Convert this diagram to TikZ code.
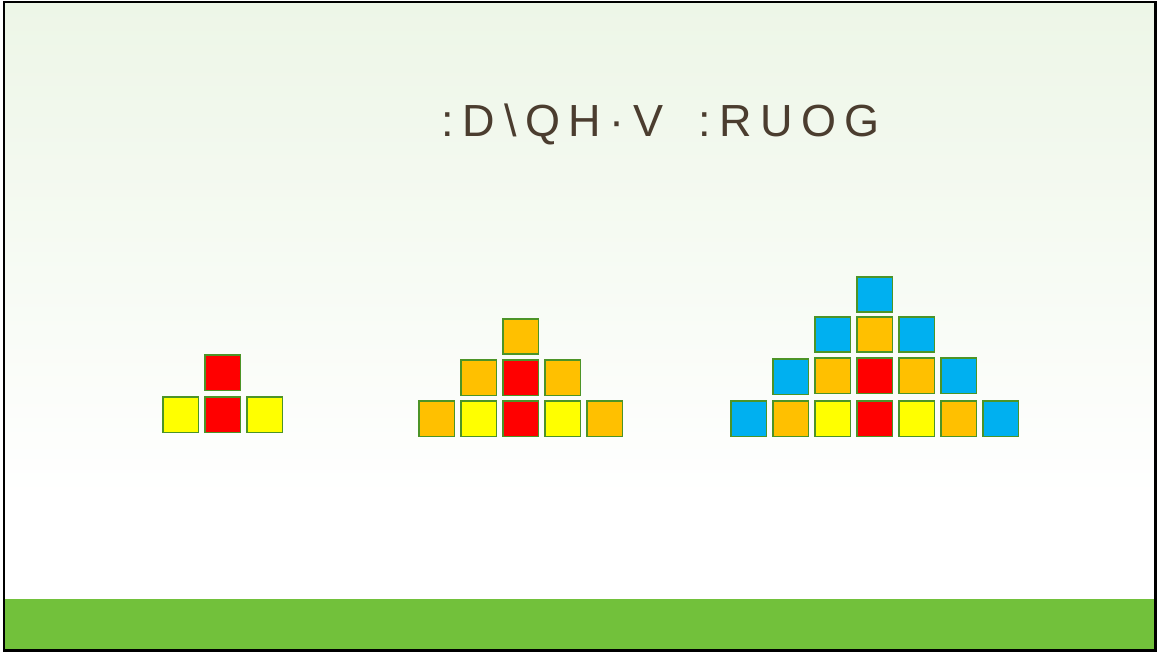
\documentclass[tikz,border=0pt]{standalone}
\usepackage{fontspec}
\setmainfont{Liberation Sans}
\definecolor{bgtop}{HTML}{EDF6E7}
\definecolor{barg}{HTML}{72C13B}
\definecolor{edgeg}{HTML}{4C9427}
\definecolor{cred}{HTML}{FF0000}
\definecolor{cyel}{HTML}{FFFF00}
\definecolor{corg}{HTML}{FFC000}
\definecolor{cblu}{HTML}{00B0F0}
\definecolor{txt}{HTML}{4B3D2F}
\tikzset{
  sq/.style={draw=edgeg, line width=1.8pt, minimum size=35.5pt, inner sep=0pt, anchor=north west},
  R/.style={sq, fill=cred}, Y/.style={sq, fill=cyel}, O/.style={sq, fill=corg}, B/.style={sq, fill=cblu}
}
\begin{document}
\begin{tikzpicture}[x=1pt, y=-1pt]
\useasboundingbox (0,0) rectangle (1157,652);
\fill[white] (0,0) rectangle (1157,652);
\shade[top color=bgtop, bottom color=white] (4,3) rectangle (1155,500);
\fill[barg] (4,599) rectangle (1155,650);
\draw[black, line width=2.2pt] (4,2.2) rectangle (1155.5,650.5);
\node[txt, font=\fontsize{45}{50}\selectfont\addfontfeatures{LetterSpace=19}, anchor=base] (title) at (661,137) {:D\textbackslash QH·V\hspace{14pt} :RUOG};
% small group
\node[R] (a1) at (204,354) {};
\node[Y] (a2) at (162,396) {};
\node[R] (a3) at (204,396) {};
\node[Y] (a4) at (246,396) {};
% middle group
\node[O] (b1) at (502,318) {};
\node[O] (b2) at (460,359) {};
\node[R] (b3) at (502,359) {};
\node[O] (b4) at (544,359) {};
\node[O] (b5) at (418,400) {};
\node[Y] (b6) at (460,400) {};
\node[R] (b7) at (502,400) {};
\node[Y] (b8) at (544,400) {};
\node[O] (b9) at (586,400) {};
% large group
\node[B] (c1) at (856,276) {};
\node[B] (c2) at (814,316) {};
\node[O] (c3) at (856,316) {};
\node[B] (c4) at (898,316) {};
\node[B] (c5) at (772,358) {};
\node[O] (c6) at (814,357) {};
\node[R] (c7) at (856,357) {};
\node[O] (c8) at (898,357) {};
\node[B] (c9) at (940,357) {};
\node[B] (c10) at (730,400) {};
\node[O] (c11) at (772,400) {};
\node[Y] (c12) at (814,400) {};
\node[R] (c13) at (856,400) {};
\node[Y] (c14) at (898,400) {};
\node[O] (c15) at (940,400) {};
\node[B] (c16) at (982,400) {};
\end{tikzpicture}
\end{document}
